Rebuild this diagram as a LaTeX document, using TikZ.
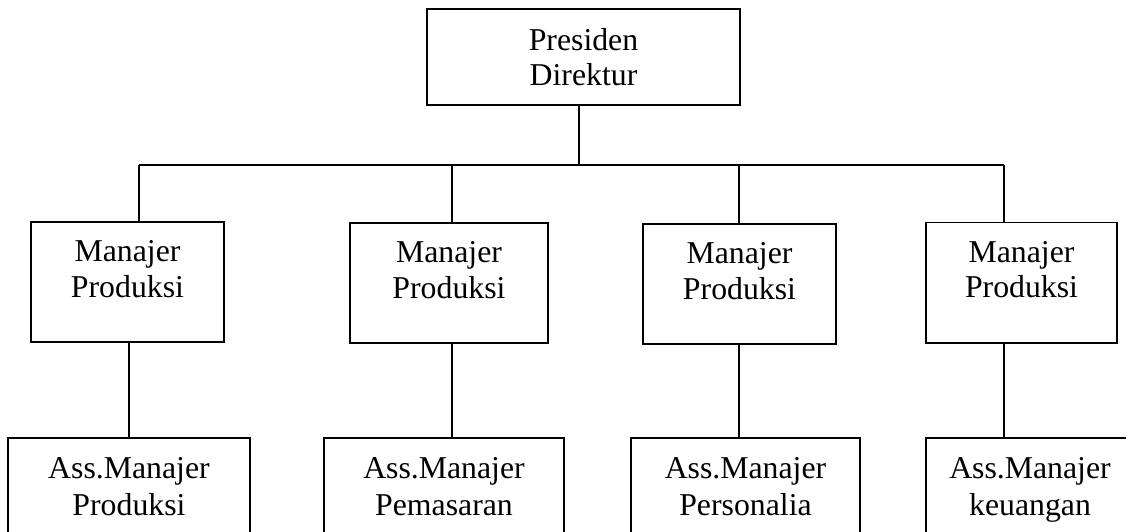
\documentclass[tikz,border=0pt]{standalone}
\usepackage{fontspec}
\setmainfont{Liberation Serif}

\tikzset{
  org/.style={draw, line width=1.4pt, align=center, inner sep=0pt,
    font=\fontsize{22.6}{25}\selectfont},
  mgr/.style={org, minimum height=3cm, text height=1.875cm, text depth=1.125cm},
  asst/.style={org, minimum height=3cm, text height=1.925cm, text depth=1.075cm,
    font=\fontsize{22.6}{26.3}\selectfont},
}

\begin{document}
\begin{tikzpicture}[x=0.025cm, y=-0.025cm, line width=1.4pt]
\useasboundingbox (0,0) rectangle (1126,532);
\clip (0,0) rectangle (1126,532);

% Top
\node[org, minimum width=7.825cm, minimum height=2.4cm] (pd) at (583.5,57) {Presiden\\Direktur};

% Managers
\node[mgr, minimum width=4.825cm] (m1) at (127.5,282) {Manajer\\Produksi};
\node[mgr, minimum width=4.95cm]  (m2) at (449,283)   {Manajer\\Produksi};
\node[mgr, minimum width=4.825cm] (m3) at (739.5,284) {Manajer\\Produksi};
\node[mgr, minimum width=4.775cm] (m4) at (1021.5,282.5) {Manajer\\Produksi};

% Assistants
\node[asst, minimum width=6.05cm] (a1) at (129,498)   {Ass.Manajer\\Produksi};
\node[asst, minimum width=6cm]    (a2) at (444,498)   {Ass.Manajer\\Pemasaran};
\node[asst, minimum width=5.725cm] (a3) at (745.5,498) {Ass.Manajer\\Personalia};
\node[asst, minimum width=5.2cm]  (a4) at (1030,498)  {Ass.Manajer\\keuangan};

% Lines
\coordinate (jt) at (579,165);
\coordinate (j1) at (139,165);
\coordinate (j2) at (452,165);
\coordinate (j3) at (739,165);
\coordinate (j4) at (1004,165);
\draw (j1) -- (j4);
\draw (jt |- pd.south) -- (jt);
\foreach \i in {1,...,4} \draw (j\i) -- (j\i |- m\i.north);
\draw (a1.north |- m1.south) -- (a1.north);
\foreach \i in {2,3,4} \draw (j\i |- m\i.south) -- (j\i |- a\i.north);
\end{tikzpicture}
\end{document}
